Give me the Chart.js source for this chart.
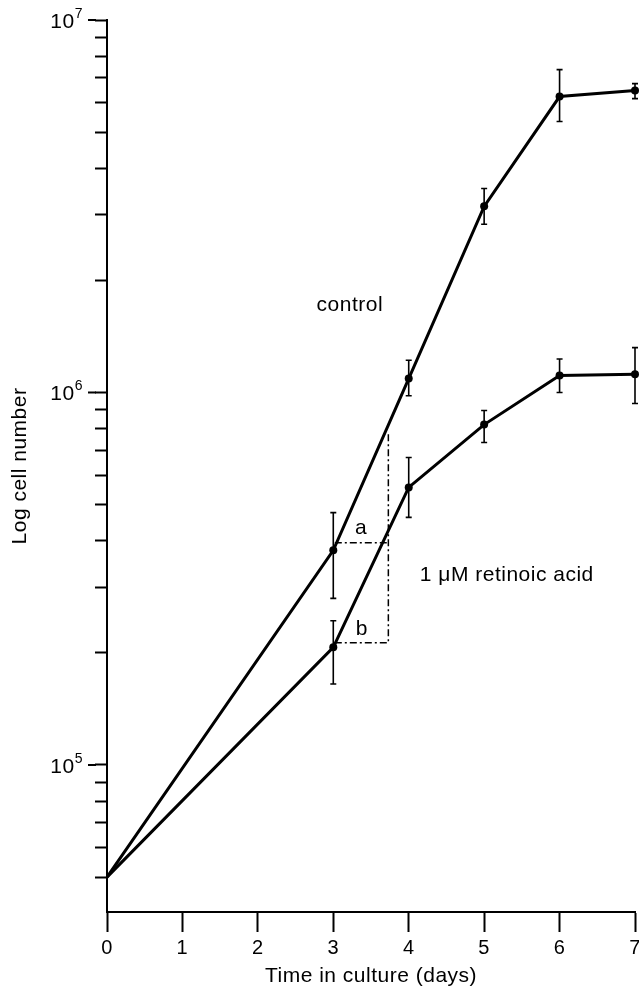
<!DOCTYPE html>
<html lang="en">
<head>
    <meta charset="UTF-8">
    <title>Log cell number vs time in culture</title>
    <script src="https://cdn.jsdelivr.net/npm/chart.js@4.4.0/dist/chart.umd.min.js"></script>
    <style>
        html, body { margin: 0; padding: 0; background: #fff; }
        #wrap { width: 639px; height: 989px; position: relative; }
    </style>
</head>
<body>
    <div id="wrap"><canvas id="growthChart"></canvas></div>

    <script>
        // values
        const days = [0, 3, 4, 5, 6, 7];
        const controlCells = [5.0e4, 3.77e5, 1.09e6, 3.16e6, 6.23e6, 6.47e6];
        const controlLow = [null, 2.8e5, 0.98e6, 2.83e6, 5.34e6, 6.15e6];
        const controlHigh = [null, 4.76e5, 1.22e6, 3.53e6, 7.36e6, 6.75e6];
        const retinoicCells = [5.0e4, 2.07e5, 5.56e5, 8.2e5, 1.11e6, 1.12e6];
        const retinoicLow = [null, 1.65e5, 4.62e5, 7.34e5, 1.0e6, 0.934e6];
        const retinoicHigh = [null, 2.44e5, 6.69e5, 8.95e5, 1.23e6, 1.32e6];

        // dash-dot construction lines (a, b and the vertical drop)
        const guideX = [3.02, 3.73];
        const guideA = 3.95e5;
        const guideB = 2.13e5;
        const guideTop = 7.8e5;

        const xTicks = [0, 1, 2, 3, 4, 5, 6, 7];
        const yMajorTicks = [1e5, 1e6, 1e7];
        const yMinorTicks = [5e4, 6e4, 7e4, 8e4, 9e4,
            2e5, 3e5, 4e5, 5e5, 6e5, 7e5, 8e5, 9e5,
            2e6, 3e6, 4e6, 5e6, 6e6, 7e6, 8e6, 9e6];
        const yExponents = ['5', '6', '7'];

        const noteText = ['control', 'a', 'b', '1 \u03bcM retinoic acid'];
        const noteX = [3.22, 3.37, 3.38, 5.3];
        const noteY = [1.71e6, 4.31e5, 2.31e5, 3.23e5];

        const FONT = '"Liberation Sans", Arial, sans-serif';

        const textSpacing = {
            id: 'textSpacing',
            beforeDraw(chart) { chart.ctx.letterSpacing = '0.5px'; }
        };

        const errorBars = {
            id: 'errorBars',
            afterDatasetsDraw(chart) {
                const { ctx, scales: { x, y } } = chart;
                ctx.save();
                ctx.strokeStyle = '#000';
                ctx.lineWidth = 1.6;
                [[controlLow, controlHigh], [retinoicLow, retinoicHigh]].forEach(([lo, hi]) => {
                    days.forEach((d, i) => {
                        if (lo[i] == null) return;
                        const px = x.getPixelForValue(d);
                        const y1 = y.getPixelForValue(lo[i]);
                        const y2 = y.getPixelForValue(hi[i]);
                        ctx.beginPath();
                        ctx.moveTo(px, y1); ctx.lineTo(px, y2);
                        ctx.moveTo(px - 3, y1); ctx.lineTo(px + 3, y1);
                        ctx.moveTo(px - 3, y2); ctx.lineTo(px + 3, y2);
                        ctx.stroke();
                    });
                });
                ctx.restore();
            }
        };

        const axisExtras = {
            id: 'axisExtras',
            afterDraw(chart) {
                const { ctx, scales: { y } } = chart;
                const left = chart.chartArea.left;
                ctx.save();
                // longer ticks at the decades
                ctx.strokeStyle = '#000';
                ctx.lineWidth = 2;
                yMajorTicks.forEach(v => {
                    const py = y.getPixelForValue(v);
                    ctx.beginPath();
                    ctx.moveTo(left - 19, py);
                    ctx.lineTo(left - 11, py);
                    ctx.stroke();
                });
                // 10^n labels with a raised exponent
                ctx.fillStyle = '#000';
                ctx.textBaseline = 'middle';
                yMajorTicks.forEach((v, i) => {
                    const py = y.getPixelForValue(v);
                    ctx.font = '14px ' + FONT;
                    ctx.textAlign = 'right';
                    const expW = ctx.measureText(yExponents[i]).width;
                    ctx.fillText(yExponents[i], left - 24, py - 6);
                    ctx.font = '21px ' + FONT;
                    ctx.fillText('10', left - 24 - expW, py + 2);
                });
                // text in the plot
                ctx.font = '21px ' + FONT;
                ctx.textAlign = 'center';
                noteText.forEach((t, i) => {
                    ctx.fillText(t, chart.scales.x.getPixelForValue(noteX[i]), y.getPixelForValue(noteY[i]));
                });
                ctx.restore();
            }
        };

        new Chart(document.getElementById('growthChart'), {
            type: 'line',
            data: {
                datasets: [
                    {
                        label: 'control',
                        data: days.map((d, i) => ({ x: d, y: controlCells[i] })),
                        borderColor: '#000',
                        borderWidth: 3,
                        pointRadius: days.map(d => d === 0 ? 0 : 4),
                        pointBackgroundColor: '#000',
                        pointBorderWidth: 0,
                        tension: 0,
                        clip: false
                    },
                    {
                        label: '1 \u03bcM retinoic acid',
                        data: days.map((d, i) => ({ x: d, y: retinoicCells[i] })),
                        borderColor: '#000',
                        borderWidth: 3,
                        pointRadius: days.map(d => d === 0 ? 0 : 4),
                        pointBackgroundColor: '#000',
                        pointBorderWidth: 0,
                        tension: 0,
                        clip: false
                    },
                    {
                        label: 'b',
                        data: [
                            { x: guideX[0], y: guideB },
                            { x: guideX[1], y: guideB },
                            { x: guideX[1], y: guideTop }
                        ],
                        borderColor: '#000',
                        borderWidth: 1.5,
                        borderDash: [7, 3, 2, 3],
                        pointRadius: 0,
                        tension: 0
                    },
                    {
                        label: 'a',
                        data: [
                            { x: guideX[0], y: guideA },
                            { x: guideX[1], y: guideA }
                        ],
                        borderColor: '#000',
                        borderWidth: 1.5,
                        borderDash: [7, 3, 2, 3],
                        pointRadius: 0,
                        tension: 0
                    }
                ]
            },
            options: {
                responsive: true,
                maintainAspectRatio: false,
                animation: false,
                layout: { padding: { top: 20, right: 2, left: 0, bottom: 0 } },
                plugins: {
                    legend: { display: false },
                    tooltip: { enabled: false }
                },
                scales: {
                    x: {
                        type: 'linear',
                        min: 0,
                        max: 7,
                        afterBuildTicks: s => { s.ticks = xTicks.map(v => ({ value: v })); },
                        afterFit: s => {
                            s.height = 77;
                            s.paddingLeft = 0;
                            s.paddingRight = 0;
                        },
                        border: { display: true, color: '#000', width: 2 },
                        grid: {
                            drawOnChartArea: false,
                            drawTicks: true,
                            tickLength: 20,
                            tickWidth: 2,
                            tickColor: '#000'
                        },
                        ticks: {
                            color: '#000',
                            padding: 4,
                            maxRotation: 0,
                            autoSkip: false,
                            font: { family: FONT, size: 20 }
                        },
                        title: {
                            display: true,
                            text: 'Time in culture (days)',
                            color: '#000',
                            font: { family: FONT, size: 21 },
                            padding: { top: 0, bottom: 0 }
                        }
                    },
                    y: {
                        type: 'logarithmic',
                        min: 40300,
                        max: 1e7,
                        afterBuildTicks: s => {
                            s.ticks = yMinorTicks.concat(yMajorTicks).sort((a, b) => a - b).map(v => ({ value: v }));
                        },
                        afterFit: s => {
                            s.width = 107;
                            s.paddingTop = 0;
                            s.paddingBottom = 0;
                        },
                        border: { display: true, color: '#000', width: 2 },
                        grid: {
                            drawOnChartArea: false,
                            drawTicks: true,
                            tickLength: 12,
                            tickWidth: 2,
                            tickColor: '#000'
                        },
                        ticks: { display: false },
                        title: {
                            display: true,
                            text: 'Log cell number',
                            color: '#000',
                            font: { family: FONT, size: 21 },
                            padding: { top: 8, bottom: 0 }
                        }
                    }
                }
            },
            plugins: [textSpacing, errorBars, axisExtras]
        });
    </script>
</body>
</html>
